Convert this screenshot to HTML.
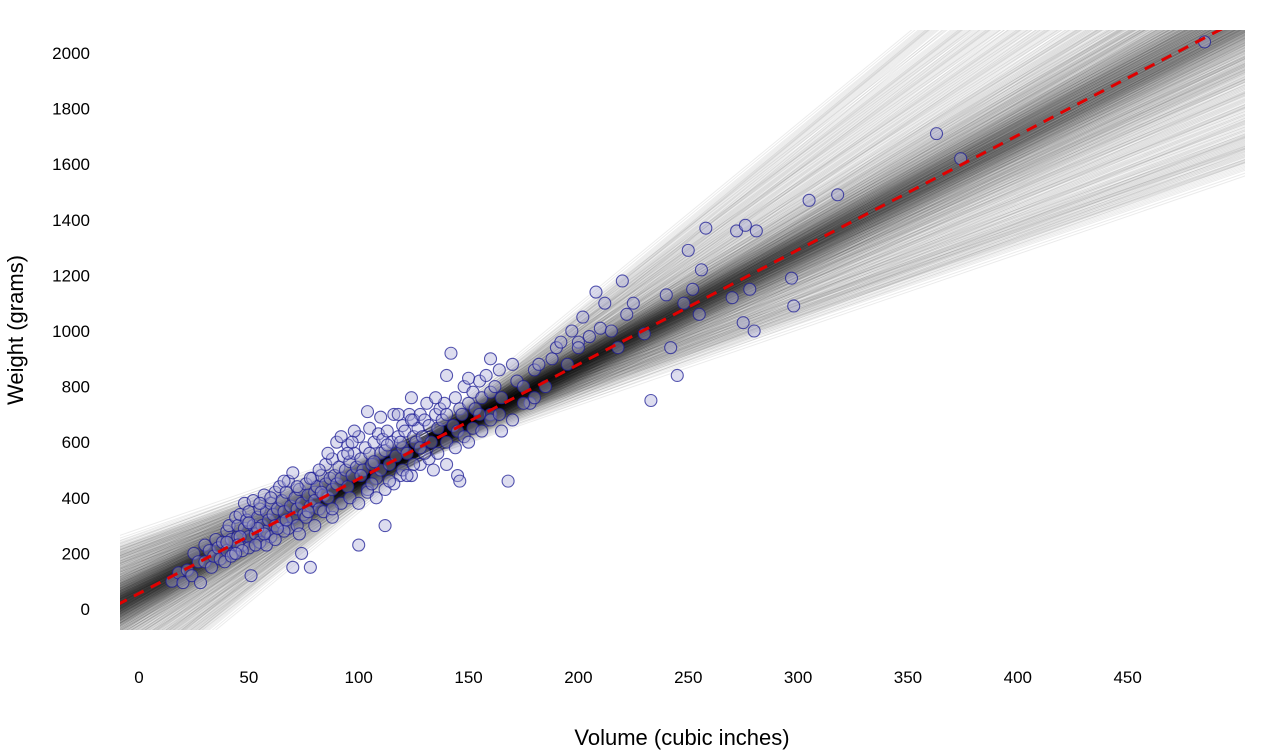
<!DOCTYPE html>
<html><head><meta charset="utf-8">
<style>
html,body{margin:0;padding:0;background:#fff;}
svg{display:block;font-family:"Liberation Sans",sans-serif;}
</style></head>
<body>
<svg id="chart" width="1275" height="750">
<defs><clipPath id="clip"><rect x="120" y="30" width="1125" height="600"/></clipPath></defs>
<g id="lines" clip-path="url(#clip)"></g>
<g id="points" clip-path="url(#clip)"></g>
<g id="fit" clip-path="url(#clip)"></g>
<g id="xticks"></g>
<g id="yticks"></g>
<text x="682" y="745" text-anchor="middle" font-size="22" fill="#000">Volume (cubic inches)</text>
<text transform="translate(23,330) rotate(-90)" text-anchor="middle" font-size="22" fill="#000">Weight (grams)</text>
</svg>
<script>
const xTicks=[0,50,100,150,200,250,300,350,400,450];
const yTicks=[0,200,400,600,800,1000,1200,1400,1600,1800,2000];
const slopes=[4.12,4.0,4.25,3.9,4.35,4.05,4.18,3.8,4.45,3.95,4.3,4.08,3.72,4.55,4.15,3.85,4.4,3.65,4.62,4.1,3.6,4.7,4.22,3.5,4.85,4.02,3.38,5.0,3.25,5.25,3.1,5.5,2.95,5.8,2.85,6.1,2.72,6.5,4.28,3.98];
const offsets=[0,10,-10,20,-20,5,-5,30,-30,15,-15,40,-40,2,-2,25,-25,50,-50,8];
const fitIntercept=56, fitSlope=4.12;
const points=[[15,100],[18,130],[20,95],[22,140],[24,120],[25,200],[27,170],[28,95],[30,230],[30,170],[32,210],[33,150],[34,190],[35,250],[36,220],[37,180],[38,240],[39,170],[40,280],[40,210],[41,300],[42,250],[43,200],[44,330],[45,260],[45,300],[46,340],[47,230],[48,380],[48,290],[49,320],[50,260],[50,350],[51,120],[52,300],[52,390],[53,270],[54,330],[55,240],[55,360],[56,300],[57,410],[58,280],[58,350],[59,320],[60,380],[60,260],[61,340],[62,300],[62,420],[63,360],[64,440],[65,310],[65,390],[66,350],[67,420],[68,290],[68,460],[69,370],[70,330],[70,490],[71,400],[72,360],[73,430],[74,200],[74,380],[75,340],[76,450],[77,410],[78,150],[78,370],[79,470],[80,420],[80,390],[81,440],[82,360],[83,480],[84,410],[85,520],[85,450],[86,400],[87,470],[88,430],[88,540],[89,480],[90,600],[90,450],[91,510],[92,470],[93,550],[94,500],[95,590],[95,440],[96,530],[97,480],[98,560],[99,510],[100,230],[100,620],[101,540],[102,500],[103,580],[104,430],[105,650],[105,560],[106,520],[107,600],[108,470],[109,630],[110,560],[110,500],[111,610],[112,300],[112,570],[113,640],[114,520],[115,600],[116,700],[117,550],[118,620],[119,480],[120,660],[120,580],[121,640],[122,560],[123,700],[124,760],[125,620],[125,680],[126,600],[127,650],[128,700],[129,620],[130,680],[131,740],[132,660],[133,600],[135,700],[136,650],[137,720],[138,680],[139,740],[140,700],[142,920],[143,660],[144,760],[145,640],[146,720],[147,700],[148,800],[150,740],[152,780],[153,720],[155,820],[156,760],[158,840],[160,700],[160,780],[162,800],[164,860],[165,760],[168,460],[170,880],[172,820],[175,800],[178,740],[180,860],[182,880],[185,800],[188,900],[190,940],[192,960],[195,880],[197,1000],[200,960],[200,940],[202,1050],[205,980],[208,1140],[210,1010],[212,1100],[215,1000],[218,940],[220,1180],[222,1060],[225,1100],[230,990],[233,750],[240,1130],[242,940],[245,840],[248,1100],[250,1290],[252,1150],[255,1060],[256,1220],[258,1370],[270,1120],[272,1360],[275,1030],[276,1380],[278,1150],[280,1000],[281,1360],[297,1190],[298,1090],[305,1470],[318,1490],[363,1710],[374,1620],[485,2040],
[42,190],[46,260],[50,220],[54,290],[58,230],[62,250],[66,280],[70,150],[72,300],[76,330],[80,300],[84,350],[88,330],[92,380],[96,400],[100,380],[104,420],[108,400],[112,430],[116,450],[120,500],[124,480],[128,520],[132,540],[136,560],[140,600],[144,580],[148,620],[152,650],[156,640],[160,680],[164,700],[170,680],[175,740],[180,760],[140,520],[145,480],[150,600],[125,520],[118,700],[110,690],[104,710],[98,640],[92,620],[86,560],[82,500],[78,470],[72,440],[66,460],[60,400],[55,380],[50,310],[45,230],[40,240],[135,760],[130,560],[122,480],[114,460],[106,450],[95,560],[88,360],[83,420],[77,350],[73,270],[67,320],[63,290],[57,270],[53,230],[47,210],[44,200],[150,830],[155,700],[160,900],[165,640],[146,460],[140,840],[134,500],[128,580],[124,680],[119,600],[113,590],[107,530],[101,480],[97,600]];

const X=v=>139+v*2.197, Y=w=>609-w*0.278;
const NS="http://www.w3.org/2000/svg";
const gl=document.getElementById('lines');
const v0=-10, v1=505, pv=130, pw=592;
slopes.forEach(s=>{
  offsets.forEach(o=>{
    const f=v=>pw+o+s*(v-pv);
    const l=document.createElementNS(NS,'line');
    l.setAttribute('x1',X(v0));l.setAttribute('y1',Y(f(v0)));
    l.setAttribute('x2',X(v1));l.setAttribute('y2',Y(f(v1)));
    l.setAttribute('stroke','#000');l.setAttribute('stroke-opacity','0.08');l.setAttribute('stroke-width','1');
    
    
    gl.appendChild(l);
  });
});
const gp=document.getElementById('points');
points.forEach(p=>{
  const c=document.createElementNS(NS,'circle');
  c.setAttribute('cx',X(p[0]));c.setAttribute('cy',Y(p[1]));c.setAttribute('r','6');
  c.setAttribute('fill','rgba(170,170,215,0.4)');c.setAttribute('stroke','rgba(30,30,150,0.75)');c.setAttribute('stroke-width','1.1');
  
  
  gp.appendChild(c);
});
const fl=document.createElementNS(NS,'line');
fl.setAttribute('x1',X(v0));fl.setAttribute('y1',Y(fitIntercept+fitSlope*v0));
fl.setAttribute('x2',X(v1));fl.setAttribute('y2',Y(fitIntercept+fitSlope*v1));
fl.setAttribute('stroke','#e00000');fl.setAttribute('stroke-width','3');fl.setAttribute('stroke-dasharray','11,8');


document.getElementById('fit').appendChild(fl);
const gx=document.getElementById('xticks');
xTicks.forEach(t=>{
  const e=document.createElementNS(NS,'text');
  e.setAttribute('x',X(t));e.setAttribute('y','683');e.setAttribute('text-anchor','middle');e.setAttribute('font-size','17');
  e.textContent=t;
  
  
  gx.appendChild(e);
});
const gy=document.getElementById('yticks');
yTicks.forEach(t=>{
  const e=document.createElementNS(NS,'text');
  e.setAttribute('x','90');e.setAttribute('y',Y(t)+6);e.setAttribute('text-anchor','end');e.setAttribute('font-size','17');
  e.textContent=t;
  
  
  gy.appendChild(e);
});
</script>
</body></html>
